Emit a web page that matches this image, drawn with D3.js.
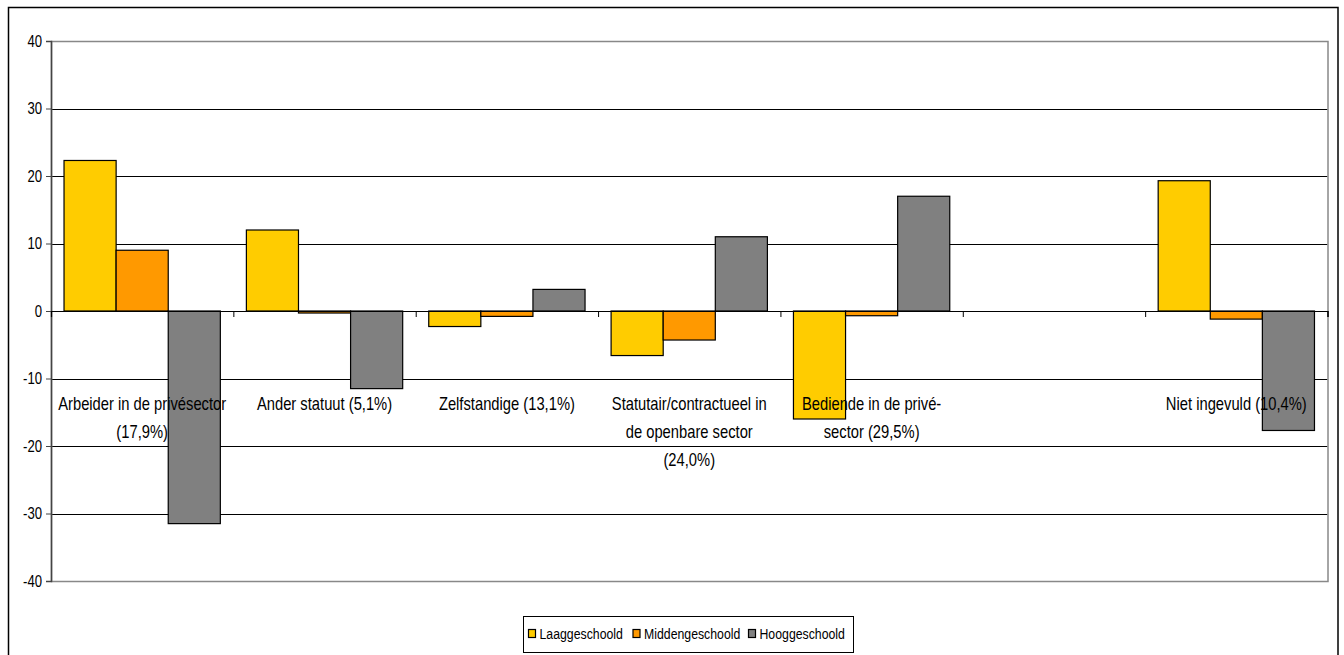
<!DOCTYPE html>
<html>
<head>
<meta charset="utf-8">
<script src="https://cdn.jsdelivr.net/npm/d3@7"></script>
<style>
  html, body { margin: 0; padding: 0; background: #fff; }
  svg { display: block; }
  text { font-family: "Liberation Sans", Arial, sans-serif; fill: #000; }
</style>
</head>
<body>
<svg id="chart" width="1344" height="655"></svg>
<script>
// ---- data ----
const categories = [
  "Arbeider in de privésector\n(17,9%)",
  "Ander statuut (5,1%)",
  "Zelfstandige (13,1%)",
  "Statutair/contractueel in\nde openbare sector\n(24,0%)",
  "Bediende in de privé-\nsector (29,5%)",
  "",
  "Niet ingevuld (10,4%)"
];
const seriesNames = ["Laaggeschoold", "Middengeschoold", "Hooggeschoold"];
const laaggeschoold   = [22.3, 12.0, -2.3, -6.6, -16.0, null, 19.3];
const middengeschoold = [9.0, -0.3, -0.8, -4.3, -0.7, null, -1.2];
const hooggeschoold   = [-31.5, -11.5, 3.2, 11.0, 17.0, null, -17.7];
const yTicks = [-40, -30, -20, -10, 0, 10, 20, 30, 40];
const seriesColors = ["#FFCC00", "#FF9900", "#808080"];

const seriesValues = [laaggeschoold, middengeschoold, hooggeschoold];
const NARROW = 0.82; // emulate a condensed (Arial Narrow-like) face

// ---- layout ----
const svg = d3.select("#chart");
const plot = { left: 51, right: 1327.5, top: 41, bottom: 581 };

// outer chart border
svg.append("rect")
  .attr("x", 8.5).attr("y", 7.5)
  .attr("width", 1329.5).attr("height", 660)
  .attr("fill", "#fff").attr("stroke", "#000").attr("stroke-width", 1.5);

const y = d3.scaleLinear().domain([-40, 40]).range([plot.bottom, plot.top]);
const x0 = d3.scaleBand().domain(d3.range(categories.length))
  .range([plot.left, plot.right]).paddingInner(0).paddingOuter(0);
const x1 = d3.scaleBand().domain(d3.range(seriesNames.length))
  .range([0, x0.bandwidth()]).paddingInner(0).paddingOuter(0.25);

// gridlines
svg.append("g").selectAll("line")
  .data(yTicks.filter(t => t !== 0 && Math.abs(t) !== 40))
  .join("line")
  .attr("x1", plot.left).attr("x2", plot.right)
  .attr("y1", d => Math.round(y(d)) + 0.5).attr("y2", d => Math.round(y(d)) + 0.5)
  .attr("stroke", "#000").attr("stroke-width", 1);

// plot area border (gray)
svg.append("rect")
  .attr("x", plot.left + 0.5).attr("y", Math.round(plot.top) + 0.5)
  .attr("width", plot.right - plot.left).attr("height", plot.bottom - plot.top)
  .attr("fill", "none").attr("stroke", "#888").attr("stroke-width", 1.5);

// y axis
const yAxis = d3.axisLeft(y).tickValues(yTicks).tickSize(5).tickPadding(4).tickFormat(d => String(d));
const gy = svg.append("g").attr("transform", `translate(${plot.left},0)`).call(yAxis);
gy.select(".domain").attr("stroke", "#444").attr("stroke-width", 1.5);
gy.selectAll(".tick line").attr("stroke", "#444");
gy.selectAll(".tick text")
  .style("font-size", "16px").attr("fill", "#000")
  .style("font-family", '"Liberation Sans", Arial, sans-serif')
  .attr("x", -9 / NARROW)
  .attr("transform", `scale(${NARROW},1)`);

// bars
const groups = svg.append("g").selectAll("g")
  .data(categories.map((c, i) => i))
  .join("g")
  .attr("transform", i => `translate(${x0(i)},0)`);

groups.selectAll("rect")
  .data(i => seriesValues.map((vals, s) => ({ s, v: vals[i] })).filter(d => d.v !== null))
  .join("rect")
  .attr("x", d => x1(d.s))
  .attr("width", x1.bandwidth())
  .attr("y", d => y(Math.max(0, d.v)))
  .attr("height", d => Math.abs(y(d.v) - y(0)))
  .attr("fill", d => seriesColors[d.s])
  .attr("stroke", "#000").attr("stroke-width", 1.2);

// zero axis with ticks at category boundaries
const xAxis = d3.axisBottom(d3.scaleLinear().domain([0, categories.length]).range([plot.left, plot.right]))
  .tickValues(d3.range(1, categories.length + 1)).tickSize(6).tickFormat("");
const gx = svg.append("g").attr("transform", `translate(0,${y(0)})`).call(xAxis);
gx.select(".domain").attr("stroke", "#000").attr("stroke-width", 1.2);
gx.selectAll(".tick line").attr("stroke", "#000");

// category labels
const labelGroups = svg.append("g").selectAll("g")
  .data(categories.map((c, i) => ({ i, lines: c.split("\n") })))
  .join("g")
  .attr("transform", d => `translate(${x0(d.i) + x0.bandwidth() / 2},410) scale(${NARROW},1)`);
const labels = labelGroups.append("text")
  .attr("text-anchor", "middle")
  .style("font-size", "18px")
  .attr("x", 0).attr("y", 0);
labels.selectAll("tspan")
  .data(d => d.lines.map((l, k) => ({ l, k })))
  .join("tspan")
  .attr("x", 0)
  .attr("dy", d => d.k === 0 ? 0 : 28)
  .text(d => d.l);

// legend
const legend = svg.append("g");
legend.append("rect")
  .attr("x", 523.5).attr("y", 616.5).attr("width", 330).attr("height", 36)
  .attr("fill", "#fff").attr("stroke", "#000").attr("stroke-width", 1);
const legendX = [528, 632.5, 748];
seriesNames.forEach((name, s) => {
  legend.append("rect")
    .attr("x", legendX[s] + 0.5).attr("y", 629.5).attr("width", 7).attr("height", 8)
    .attr("fill", seriesColors[s]).attr("stroke", "#000").attr("stroke-width", 1.2);
  legend.append("g")
    .attr("transform", `translate(${legendX[s] + 11.5},639) scale(${NARROW},1)`)
    .append("text")
    .style("font-size", "15px")
    .text(name);
});
</script>
</body>
</html>
